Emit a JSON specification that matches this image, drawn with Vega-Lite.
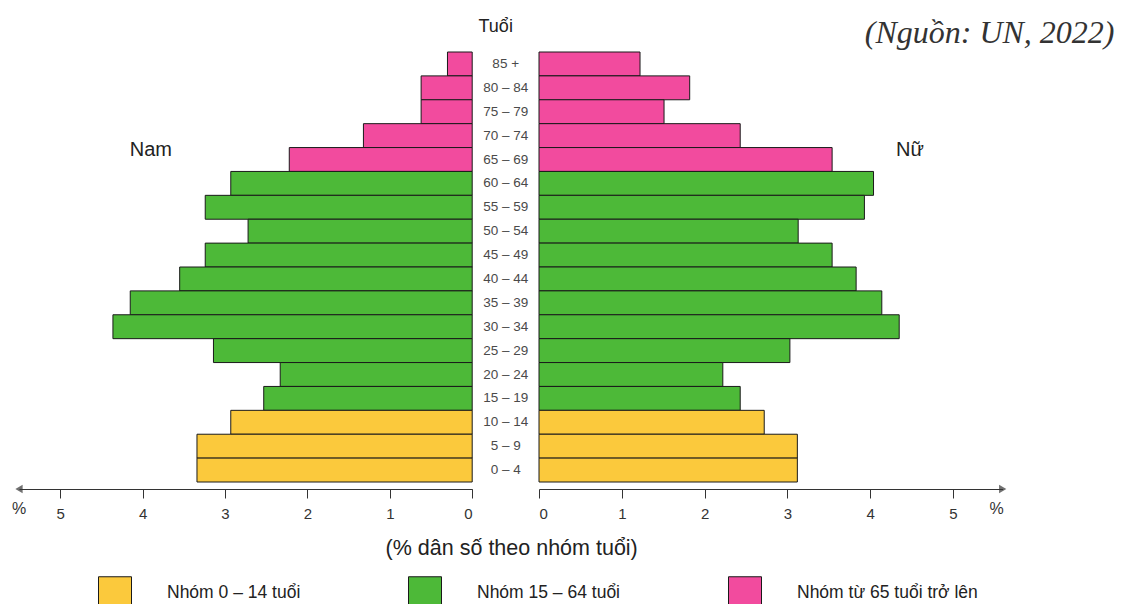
{
  "$schema": "https://vega.github.io/schema/vega-lite/v6.json",
  "padding": {"left": 11, "top": 16, "right": 5, "bottom": 0},
  "bounds": "flush",
  "spacing": 0,
  "config": {
    "view": {"stroke": null},
    "font": "Liberation Sans",
    "axis": {"grid": false}
  },
  "datasets": {
    "pop": [
      {"age": "85 +", "sex": "Nam", "pct": 0.30, "group": "Nhóm từ 65 tuổi trở lên"},
      {"age": "80 – 84", "sex": "Nam", "pct": 0.62, "group": "Nhóm từ 65 tuổi trở lên"},
      {"age": "75 – 79", "sex": "Nam", "pct": 0.62, "group": "Nhóm từ 65 tuổi trở lên"},
      {"age": "70 – 74", "sex": "Nam", "pct": 1.32, "group": "Nhóm từ 65 tuổi trở lên"},
      {"age": "65 – 69", "sex": "Nam", "pct": 2.22, "group": "Nhóm từ 65 tuổi trở lên"},
      {"age": "60 – 64", "sex": "Nam", "pct": 2.93, "group": "Nhóm 15 – 64 tuổi"},
      {"age": "55 – 59", "sex": "Nam", "pct": 3.24, "group": "Nhóm 15 – 64 tuổi"},
      {"age": "50 – 54", "sex": "Nam", "pct": 2.72, "group": "Nhóm 15 – 64 tuổi"},
      {"age": "45 – 49", "sex": "Nam", "pct": 3.24, "group": "Nhóm 15 – 64 tuổi"},
      {"age": "40 – 44", "sex": "Nam", "pct": 3.55, "group": "Nhóm 15 – 64 tuổi"},
      {"age": "35 – 39", "sex": "Nam", "pct": 4.15, "group": "Nhóm 15 – 64 tuổi"},
      {"age": "30 – 34", "sex": "Nam", "pct": 4.36, "group": "Nhóm 15 – 64 tuổi"},
      {"age": "25 – 29", "sex": "Nam", "pct": 3.14, "group": "Nhóm 15 – 64 tuổi"},
      {"age": "20 – 24", "sex": "Nam", "pct": 2.33, "group": "Nhóm 15 – 64 tuổi"},
      {"age": "15 – 19", "sex": "Nam", "pct": 2.53, "group": "Nhóm 15 – 64 tuổi"},
      {"age": "10 – 14", "sex": "Nam", "pct": 2.93, "group": "Nhóm 0 – 14 tuổi"},
      {"age": "5 – 9", "sex": "Nam", "pct": 3.34, "group": "Nhóm 0 – 14 tuổi"},
      {"age": "0 – 4", "sex": "Nam", "pct": 3.34, "group": "Nhóm 0 – 14 tuổi"},
      {"age": "85 +", "sex": "Nữ", "pct": 1.22, "group": "Nhóm từ 65 tuổi trở lên"},
      {"age": "80 – 84", "sex": "Nữ", "pct": 1.82, "group": "Nhóm từ 65 tuổi trở lên"},
      {"age": "75 – 79", "sex": "Nữ", "pct": 1.51, "group": "Nhóm từ 65 tuổi trở lên"},
      {"age": "70 – 74", "sex": "Nữ", "pct": 2.43, "group": "Nhóm từ 65 tuổi trở lên"},
      {"age": "65 – 69", "sex": "Nữ", "pct": 3.54, "group": "Nhóm từ 65 tuổi trở lên"},
      {"age": "60 – 64", "sex": "Nữ", "pct": 4.04, "group": "Nhóm 15 – 64 tuổi"},
      {"age": "55 – 59", "sex": "Nữ", "pct": 3.93, "group": "Nhóm 15 – 64 tuổi"},
      {"age": "50 – 54", "sex": "Nữ", "pct": 3.13, "group": "Nhóm 15 – 64 tuổi"},
      {"age": "45 – 49", "sex": "Nữ", "pct": 3.54, "group": "Nhóm 15 – 64 tuổi"},
      {"age": "40 – 44", "sex": "Nữ", "pct": 3.83, "group": "Nhóm 15 – 64 tuổi"},
      {"age": "35 – 39", "sex": "Nữ", "pct": 4.14, "group": "Nhóm 15 – 64 tuổi"},
      {"age": "30 – 34", "sex": "Nữ", "pct": 4.35, "group": "Nhóm 15 – 64 tuổi"},
      {"age": "25 – 29", "sex": "Nữ", "pct": 3.03, "group": "Nhóm 15 – 64 tuổi"},
      {"age": "20 – 24", "sex": "Nữ", "pct": 2.22, "group": "Nhóm 15 – 64 tuổi"},
      {"age": "15 – 19", "sex": "Nữ", "pct": 2.43, "group": "Nhóm 15 – 64 tuổi"},
      {"age": "10 – 14", "sex": "Nữ", "pct": 2.72, "group": "Nhóm 0 – 14 tuổi"},
      {"age": "5 – 9", "sex": "Nữ", "pct": 3.12, "group": "Nhóm 0 – 14 tuổi"},
      {"age": "0 – 4", "sex": "Nữ", "pct": 3.12, "group": "Nhóm 0 – 14 tuổi"}
    ]
  },
  "hconcat": [
    {
      "width": 453.2,
      "height": 430,
      "layer": [
        {
          "data": {"name": "pop"},
          "transform": [{"filter": "datum.sex === 'Nam'"}],
          "mark": {"type": "bar", "stroke": "#1a1a1a", "strokeWidth": 1},
          "encoding": {
            "y": {"field": "age", "type": "nominal", "scale": {"domain": ["85 +","80 – 84","75 – 79","70 – 74","65 – 69","60 – 64","55 – 59","50 – 54","45 – 49","40 – 44","35 – 39","30 – 34","25 – 29","20 – 24","15 – 19","10 – 14","5 – 9","0 – 4"], "paddingInner": 0, "paddingOuter": 0}, "axis": null},
            "x": {"field": "pct", "type": "quantitative", "scale": {"domain": [0, 5.5], "reverse": true, "nice": false}, "axis": {"values": [0,1,2,3,4,5], "format": "d", "title": null, "offset": 7, "domainColor": "#333", "domainWidth": 1.2, "tickColor": "#333", "tickSize": 9, "labelPadding": 8, "labelFontSize": 15, "labelColor": "#333"}},
            "color": {"field": "group", "type": "nominal", "scale": {"domain": ["Nhóm 0 – 14 tuổi", "Nhóm 15 – 64 tuổi", "Nhóm từ 65 tuổi trở lên"], "range": ["#FBC93C", "#4DB938", "#F24B9E"]}, "legend": {"title": null, "orient": "none", "legendX": 79, "legendY": 524, "direction": "horizontal", "symbolType": "square", "symbolSize": 1089, "symbolStrokeColor": "#333", "symbolStrokeWidth": 1, "labelFontSize": 17.5, "labelOffset": 35, "columnPadding": 105, "padding": 0, "labelColor": "#222", "labelLimit": 400}}
          }
        },
        {
          "data": {"values": [{"t": "%"}]},
          "mark": {"type": "point", "shape": "triangle-left", "filled": true, "size": 70, "color": "#333", "yOffset": 19},
          "encoding": {"x": {"datum": 5.5, "type": "quantitative"}, "y": {"datum": "0 – 4", "type": "nominal"}}
        },
        {
          "data": {"values": [{"t": "%"}]},
          "mark": {"type": "text", "fontSize": 16, "color": "#333", "dy": 39},
          "encoding": {"x": {"datum": 5.5, "type": "quantitative"}, "y": {"datum": "0 – 4", "type": "nominal"}, "text": {"field": "t"}}
        },
        {
          "data": {"values": [{"t": "Nam"}]},
          "mark": {"type": "text", "fontSize": 20, "color": "#222", "dy": -10},
          "encoding": {"x": {"datum": 3.9, "type": "quantitative"}, "y": {"datum": "65 – 69", "type": "nominal"}, "text": {"field": "t"}}
        }
      ]
    },
    {
      "width": 65.4,
      "height": 430,
      "layer": [
        {
          "data": {"name": "pop"},
          "transform": [{"filter": "datum.sex === 'Nam'"}],
          "mark": {"type": "text", "fontSize": 13.5, "color": "#4a4a4a"},
          "encoding": {
            "y": {"field": "age", "type": "nominal", "scale": {"domain": ["85 +","80 – 84","75 – 79","70 – 74","65 – 69","60 – 64","55 – 59","50 – 54","45 – 49","40 – 44","35 – 39","30 – 34","25 – 29","20 – 24","15 – 19","10 – 14","5 – 9","0 – 4"], "paddingInner": 0, "paddingOuter": 0}, "axis": null},
            "text": {"field": "age"}
          }
        },
        {
          "data": {"values": [{"t": "Tuổi"}]},
          "mark": {"type": "text", "fontSize": 18, "color": "#222", "dy": -37, "dx": -10},
          "encoding": {"y": {"datum": "85 +", "type": "nominal"}, "text": {"field": "t"}}
        },
        {
          "data": {"values": [{"t": "(% dân số theo nhóm tuổi)"}]},
          "mark": {"type": "text", "fontSize": 21.5, "color": "#222", "dy": 79, "dx": 6},
          "encoding": {"y": {"datum": "0 – 4", "type": "nominal"}, "text": {"field": "t"}}
        }
      ]
    },
    {
      "width": 463.7,
      "height": 430,
      "layer": [
        {
          "data": {"name": "pop"},
          "transform": [{"filter": "datum.sex === 'Nữ'"}],
          "mark": {"type": "bar", "stroke": "#1a1a1a", "strokeWidth": 1},
          "encoding": {
            "y": {"field": "age", "type": "nominal", "scale": {"domain": ["85 +","80 – 84","75 – 79","70 – 74","65 – 69","60 – 64","55 – 59","50 – 54","45 – 49","40 – 44","35 – 39","30 – 34","25 – 29","20 – 24","15 – 19","10 – 14","5 – 9","0 – 4"], "paddingInner": 0, "paddingOuter": 0}, "axis": null},
            "x": {"field": "pct", "type": "quantitative", "scale": {"domain": [0, 5.6], "nice": false}, "axis": {"values": [0,1,2,3,4,5], "format": "d", "title": null, "offset": 7, "domainColor": "#333", "domainWidth": 1.2, "tickColor": "#333", "tickSize": 9, "labelPadding": 8, "labelFontSize": 15, "labelColor": "#333"}},
            "color": {"field": "group", "type": "nominal"}
          }
        },
        {
          "data": {"values": [{"t": "%"}]},
          "mark": {"type": "point", "shape": "triangle-right", "filled": true, "size": 70, "color": "#333", "yOffset": 19},
          "encoding": {"x": {"datum": 5.6, "type": "quantitative"}, "y": {"datum": "0 – 4", "type": "nominal"}}
        },
        {
          "data": {"values": [{"t": "%"}]},
          "mark": {"type": "text", "fontSize": 16, "color": "#333", "dy": 39, "dx": -6},
          "encoding": {"x": {"datum": 5.6, "type": "quantitative"}, "y": {"datum": "0 – 4", "type": "nominal"}, "text": {"field": "t"}}
        },
        {
          "data": {"values": [{"t": "Nữ"}]},
          "mark": {"type": "text", "fontSize": 20, "color": "#222", "dy": -10},
          "encoding": {"x": {"datum": 4.48, "type": "quantitative"}, "y": {"datum": "65 – 69", "type": "nominal"}, "text": {"field": "t"}}
        },
        {
          "data": {"values": [{"t": "(Nguồn: UN, 2022)"}]},
          "mark": {"type": "text", "fontSize": 32, "font": "Liberation Serif", "fontStyle": "italic", "color": "#333", "align": "right", "dy": -31},
          "encoding": {"x": {"datum": 6.95, "type": "quantitative"}, "y": {"datum": "85 +", "type": "nominal"}, "text": {"field": "t"}}
        }
      ]
    }
  ]
}
